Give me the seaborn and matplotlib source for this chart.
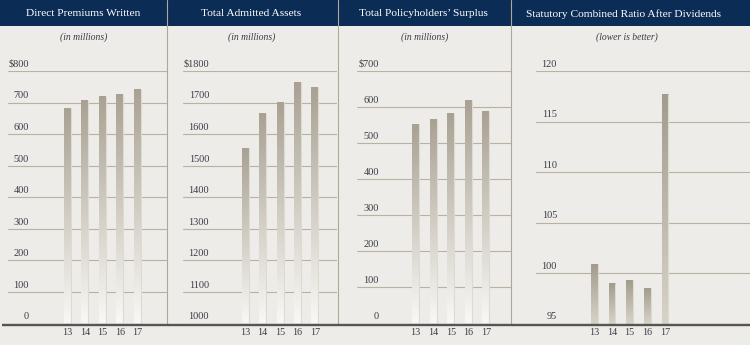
import matplotlib
matplotlib.use("Agg")
import matplotlib.pyplot as plt
import matplotlib.transforms as mtransforms
from matplotlib.colors import LinearSegmentedColormap
from matplotlib.lines import Line2D
from matplotlib.patches import Rectangle
import numpy as np
import pandas as pd
import seaborn as sns

# ---- data -------------------------------------------------------------
years = ["13", "14", "15", "16", "17"]

premiums_written = [683, 708, 720, 727, 744]          # $ millions
admitted_assets = [1557, 1668, 1702, 1764, 1748]     # $ millions
policyholders_surplus = [552, 566, 583, 620, 589]    # $ millions
combined_ratio = [100.9, 99.0, 99.3, 98.5, 117.7]    # percent

titles = ["Direct Premiums Written", "Total Admitted Assets",
          "Total Policyholders\u2019 Surplus",
          "Statutory Combined Ratio After Dividends"]
subtitles = ["(in millions)", "(in millions)", "(in millions)",
             "(lower is better)"]

premium_ticks = [0, 100, 200, 300, 400, 500, 600, 700, 800]
premium_labels = ["0", "100", "200", "300", "400", "500", "600", "700", "$800"]
asset_ticks = [1000, 1100, 1200, 1300, 1400, 1500, 1600, 1700, 1800]
asset_labels = ["1000", "1100", "1200", "1300", "1400", "1500", "1600",
                "1700", "$1800"]
surplus_ticks = [0, 100, 200, 300, 400, 500, 600, 700]
surplus_labels = ["0", "100", "200", "300", "400", "500", "600", "$700"]
ratio_ticks = [95, 100, 105, 110, 115, 120]
ratio_labels = ["95", "100", "105", "110", "115", "120"]

# ---- style ------------------------------------------------------------
sns.set_style("white")
plt.rcParams["font.family"] = ["Liberation Serif", "DejaVu Serif"]

BG = "#eeece8"
NAVY = "#0b2c55"
GRID = "#b9b2a4"
DIVIDER = "#aea79a"
TEXT = "#3a3d48"
BASE = "#555555"

W, H = 750, 345
fig = plt.figure(figsize=(W / 100, H / 100), dpi=100)
fig.patch.set_facecolor(BG)


def fx(px):
    return px / W


def fy(py):
    return 1 - py / H


TOP_PX, BOTTOM_PX = 71.0, 323.5

panels = [
    dict(values=premiums_written, ticks=premium_ticks, labels=premium_labels,
         left=8, right=167, label_x=29, c0=67.5, step=17.45, width=0.40,
         title_x=83.5, sub_x=83.7, fade=("#f9f8f5", "#a8a193")),
    dict(values=admitted_assets, ticks=asset_ticks, labels=asset_labels,
         left=183, right=337, label_x=209, c0=245.3, step=17.4, width=0.40,
         title_x=251.0, sub_x=251.5, fade=("#f9f8f5", "#a8a193")),
    dict(values=policyholders_surplus, ticks=surplus_ticks, labels=surplus_labels,
         left=357, right=511, label_x=379, c0=415.7, step=17.5, width=0.40,
         title_x=423.7, sub_x=424.5, fade=("#f9f8f5", "#a8a193")),
    dict(values=combined_ratio, ticks=ratio_ticks, labels=ratio_labels,
         left=536, right=750, label_x=557, c0=594.2, step=17.7, width=0.38,
         title_x=623.0, sub_x=627.0, fade=("#d8d3c8", "#a29c8e")),
]

# header band
fig.add_artist(Rectangle((0, fy(26)), 1, 26 / H, transform=fig.transFigure,
                         facecolor=NAVY, edgecolor="none", zorder=-2))

for i, p in enumerate(panels):
    ax = fig.add_axes([fx(p["left"]), fy(BOTTOM_PX),
                       fx(p["right"]) - fx(p["left"]),
                       (BOTTOM_PX - TOP_PX) / H])
    ax.set_facecolor("none")

    df = pd.DataFrame({"year": years, "value": p["values"]})
    sns.barplot(data=df, x="year", y="value", order=years, ax=ax,
                color=p["fade"][1], width=p["width"], saturation=1,
                errorbar=None, zorder=2)

    ylim = (p["ticks"][0], p["ticks"][-1])
    xlim = ((p["left"] - p["c0"]) / p["step"],
            (p["right"] - p["c0"]) / p["step"])

    for t in p["ticks"]:
        ax.axhline(t, color=GRID, lw=0.8, zorder=1)

    # vertical fade inside each bar
    cmap = LinearSegmentedColormap.from_list("fade", list(p["fade"]))
    grad = np.linspace(0, 1, 256).reshape(-1, 1)
    for patch in list(ax.patches):
        x0, w = patch.get_x(), patch.get_width()
        top = patch.get_y() + patch.get_height()
        bottom = max(patch.get_y(), ylim[0])
        im = ax.imshow(grad, cmap=cmap, origin="lower", aspect="auto",
                       extent=[x0, x0 + w, bottom, top], zorder=3,
                       interpolation="bilinear")
        im.set_clip_path(patch)
        patch.set_facecolor("none")
        patch.set_linewidth(0)
        # thin highlight on the right edge of the bar
        ax.plot([x0 + w, x0 + w], [bottom, top], color="#dedad2",
                lw=0.8, zorder=4, solid_capstyle="butt")

    ax.set_xlim(xlim)
    ax.set_ylim(ylim)
    for s in ax.spines.values():
        s.set_visible(False)
    ax.set_yticks([])
    ax.set_xlabel("")
    ax.set_ylabel("")
    ax.tick_params(axis="x", length=0, pad=3.2, labelsize=7.3,
                   labelcolor=TEXT)

    # value labels sitting on the gridlines
    trans = mtransforms.blended_transform_factory(fig.transFigure, ax.transData)
    trans = trans + mtransforms.ScaledTranslation(0, 1.5 / 72, fig.dpi_scale_trans)
    for t, lab in zip(p["ticks"], p["labels"]):
        ax.text(fx(p["label_x"]), t, lab, transform=trans, ha="right",
                va="bottom", fontsize=7.4, color=TEXT, clip_on=False)

    # panel heading and note
    fig.text(fx(p["title_x"]), fy(14), titles[i], ha="center", va="center",
             color="white", fontsize=8.2)
    fig.text(fx(p["sub_x"]), fy(37), subtitles[i], ha="center", va="center",
             color=TEXT, fontsize=6.9, style="italic")

# panel dividers
for x in [166.5, 337.5, 511.0]:
    fig.add_artist(Line2D([fx(x), fx(x)], [fy(0), fy(325)],
                          transform=fig.transFigure, color=DIVIDER,
                          lw=0.8, zorder=5))

# base line
fig.add_artist(Line2D([fx(2), 1], [fy(325), fy(325)], transform=fig.transFigure,
                      color=BASE, lw=1.7, zorder=6, solid_capstyle="butt"))

fig.savefig("out.png", dpi=100, facecolor=BG)
